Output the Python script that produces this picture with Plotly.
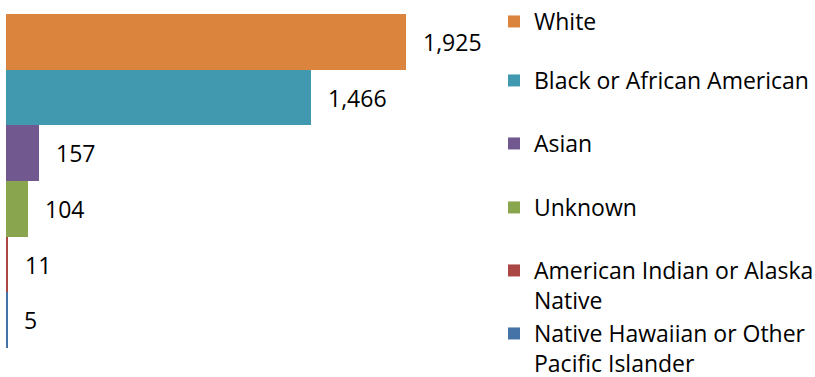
import plotly.graph_objects as go

categories = ["White", "Black or African American", "Asian", "Unknown",
              "American Indian or Alaska Native", "Native Hawaiian or Other Pacific Islander"]
legend_labels = ["White", "Black or African American", "Asian", "Unknown",
                 "American Indian or Alaska<br>Native", "Native Hawaiian or Other<br>Pacific Islander"]
values = [1925, 1466, 157, 104, 11, 5]
colors = ["#DB843D", "#4199B0", "#71588F", "#89A54E", "#AA4643", "#4572A7"]

W, H = 815, 377
ML, MR, MT, MB = 6, 309, 14, 29
PW = W - ML - MR
PH = H - MT - MB
FONT = "Open Sans"
FS = 23

# legend text centre pixel positions (first line)
leg_centres = [17, 80, 143, 207, 270, 333]

fig = go.Figure()
layout_legends = {}
for i, (cat, lab, v, c) in enumerate(zip(categories, legend_labels, values, colors)):
    lname = "legend" if i == 0 else f"legend{i+1}"
    fig.add_trace(go.Bar(
        x=[v], y=[cat], orientation="h", name=lab,
        marker=dict(color=c, line=dict(width=0)),
        legend=lname, showlegend=True, hoverinfo="x+name",
    ))
    fig.add_annotation(
        x=v, y=cat, text=f"{v:,}", showarrow=False, xanchor="left",
        xshift=15, font=dict(family=FONT, size=FS, color="#000000"),
    )
    py_top = leg_centres[i] - 21
    layout_legends[lname] = dict(
        xref="container", yref="container",
        x=494 / W, y=1 - py_top / H,
        xanchor="left", yanchor="top", valign="top",
        bgcolor="rgba(0,0,0,0)", borderwidth=0,
        font=dict(family=FONT, size=FS, color="#000000"),
    )

fig.update_layout(
    width=W, height=H,
    margin=dict(l=ML, r=MR, t=MT, b=MB, pad=0, autoexpand=False),
    paper_bgcolor="white", plot_bgcolor="white",
    barmode="overlay", bargap=0,
    showlegend=True,
    font=dict(family=FONT, size=FS, color="#000000"),
    xaxis=dict(range=[0, PW * 1925 / 400], visible=False, fixedrange=True),
    yaxis=dict(categoryorder="array", categoryarray=categories,
               autorange="reversed", visible=False, fixedrange=True),
    **layout_legends,
)

fig.write_html("out.html", config={"displayModeBar": False},
               post_script="document.body.style.margin='0';document.body.style.padding='0';")
